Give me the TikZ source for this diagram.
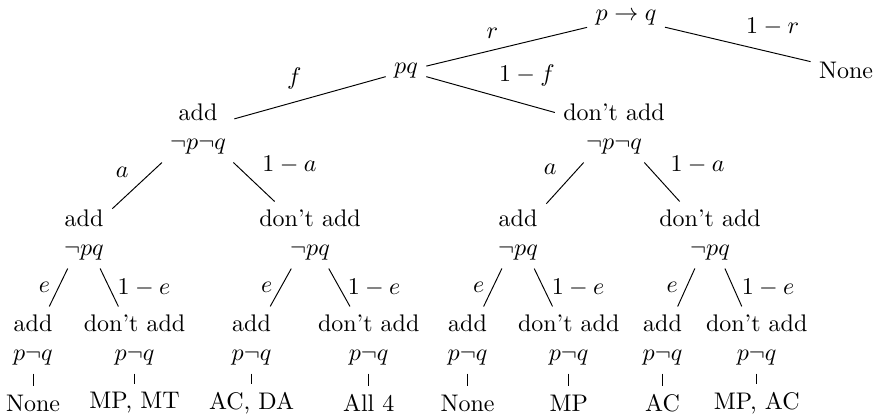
\documentclass[tikz,border=0pt]{standalone}
\tikzset{
  tn/.style={align=center},
  br/.style={draw=black, line width=0.4pt},
}
\begin{document}
\begin{tikzpicture}[x=0.41667pt, y=-0.41667pt]
\useasboundingbox (0,0) rectangle (892,419);
% level 0 and 1
\node[tn] (root) at (626,18) {$p\rightarrow q$};
\node[tn] (n1) at (846,70) {None};
\node[tn] (pq) at (406,71) {$pq$};
% level 2
\node[tn] (A) at (198,129) {add\\$\neg p\neg q$};
\node[tn] (B) at (614,129) {don't add\\$\neg p\neg q$};
% level 3
\node[tn] (AA) at (84,235) {add\\$\neg pq$};
\node[tn] (AB) at (310,235) {don't add\\$\neg pq$};
\node[tn] (BA) at (518,235) {add\\$\neg pq$};
\node[tn] (BB) at (710,235) {don't add\\$\neg pq$};
% level 4
\node[tn] (AAA) at (33,340) {add\\$p\neg q$};
\node[tn] (AAB) at (134.5,340) {don't add\\$p\neg q$};
\node[tn] (ABA) at (251.5,340) {add\\$p\neg q$};
\node[tn] (ABB) at (368.7,340) {don't add\\$p\neg q$};
\node[tn] (BAA) at (467.5,340) {add\\$p\neg q$};
\node[tn] (BAB) at (568.7,340) {don't add\\$p\neg q$};
\node[tn] (BBA) at (662.5,340) {add\\$p\neg q$};
\node[tn] (BBB) at (756.7,340) {don't add\\$p\neg q$};
% leaves
\node[tn] (L1) at (33,403) {None};
\node[tn] (L2) at (134.5,403) {MP, MT};
\node[tn] (L3) at (251.5,403) {AC, DA};
\node[tn] (L4) at (368.7,403) {All 4};
\node[tn] (L5) at (467.5,403) {None};
\node[tn] (L6) at (568.7,403) {MP};
\node[tn] (L7) at (662.5,403) {AC};
\node[tn] (L8) at (756.7,403) {MP, AC};
% edges
\draw[br] (root) -- (pq) node[midway, above left] {$r$};
\draw[br] (root) -- (n1) node[midway, above right] {$1-r$};
\draw[br] (pq) -- (A) node[midway, above left] {$f$};
\draw[br] (pq) -- (B) node[midway, above right] {$1-f$};
\draw[br] (A) -- (AA) node[midway, above left] {$a$};
\draw[br] (A) -- (AB) node[midway, above right] {$1-a$};
\draw[br] (B) -- (BA) node[midway, above left] {$a$};
\draw[br] (B) -- (BB) node[midway, above right] {$1-a$};
\draw[br] (AA) -- (AAA) node[midway, left] {$e$};
\draw[br] (AA) -- (AAB) node[midway, right] {$1-e$};
\draw[br] (AB) -- (ABA) node[midway, left] {$e$};
\draw[br] (AB) -- (ABB) node[midway, right] {$1-e$};
\draw[br] (BA) -- (BAA) node[midway, left] {$e$};
\draw[br] (BA) -- (BAB) node[midway, right] {$1-e$};
\draw[br] (BB) -- (BBA) node[midway, left] {$e$};
\draw[br] (BB) -- (BBB) node[midway, right] {$1-e$};
\draw[br] (AAA) -- (L1);
\draw[br] (AAB) -- (L2);
\draw[br] (ABA) -- (L3);
\draw[br] (ABB) -- (L4);
\draw[br] (BAA) -- (L5);
\draw[br] (BAB) -- (L6);
\draw[br] (BBA) -- (L7);
\draw[br] (BBB) -- (L8);
\end{tikzpicture}
\end{document}
